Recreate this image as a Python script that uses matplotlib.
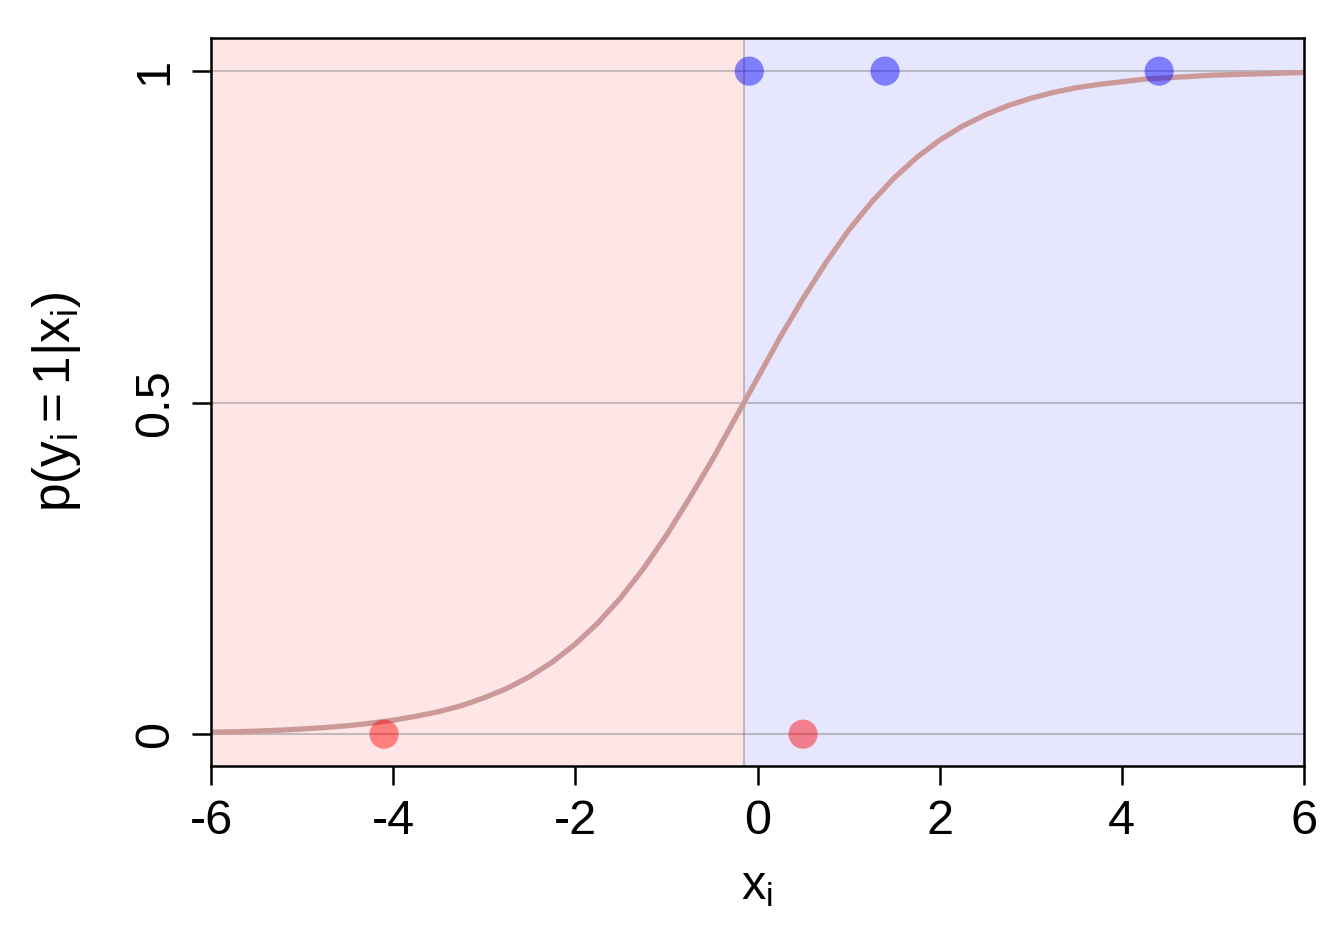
import numpy as np
import matplotlib.pyplot as plt

plt.rcParams.update({
    "font.family": "Liberation Sans",
    "mathtext.fontset": "custom",
    "mathtext.rm": "Liberation Sans",
    "mathtext.it": "Liberation Sans",
    "mathtext.bf": "Liberation Sans:bold",
    "font.size": 35,
})

# observations
x_obs = [-4.10, 0.50, -0.09, 1.40, 4.41]
y_obs = [0, 0, 1, 1, 1]

# fitted probability curve
curve_x = [-6, -5.75, -5.5, -5.25, -5, -4.75, -4.5, -4.25, -4, -3.75, -3.5,
           -3.25, -3, -2.75, -2.5, -2.25, -2, -1.75, -1.5, -1.25, -1, -0.75,
           -0.5, -0.25, 0, 0.25, 0.5, 0.75, 1, 1.25, 1.5, 1.75, 2, 2.25, 2.5,
           2.75, 3, 3.25, 3.5, 3.75, 4, 4.25, 4.5, 4.75, 5, 5.25, 5.5, 5.75, 6]
curve_p = [0.003, 0.0036, 0.0047, 0.006, 0.0078, 0.010, 0.0128, 0.0164, 0.021,
           0.027, 0.034, 0.043, 0.055, 0.069, 0.087, 0.109, 0.136, 0.168,
           0.206, 0.250, 0.300, 0.355, 0.413, 0.475, 0.537, 0.599, 0.657,
           0.711, 0.760, 0.802, 0.839, 0.870, 0.896, 0.917, 0.934, 0.948,
           0.959, 0.968, 0.975, 0.980, 0.984, 0.988, 0.990, 0.992, 0.994,
           0.995, 0.996, 0.997, 0.998]

# decision boundary
boundary = -0.15

fig = plt.figure(figsize=(13.44, 9.4), dpi=100)
ax = fig.add_axes([211 / 1344, 1 - 766 / 940, (1304 - 211) / 1344, (766 - 38) / 940])

ax.set_xlim(-6, 6)
ax.set_ylim(-0.048, 1.05)

# class regions
ax.axvspan(-6, boundary, color=(1, 230 / 255, 230 / 255), zorder=0, lw=0)
ax.axvspan(boundary, 6, color=(230 / 255, 230 / 255, 1), zorder=0, lw=0)

# grid and boundary line
for yy in [0, 0.5, 1]:
    ax.axhline(yy, color="gray", alpha=0.45, lw=1.5, zorder=1)
ax.axvline(boundary, color="gray", alpha=0.45, lw=1.5, zorder=1)

ax.plot(curve_x, curve_p, color="#CC9999", lw=3.8, zorder=2)

cols = ["red" if v == 0 else "blue" for v in y_obs]
ax.scatter(x_obs, y_obs, s=21 ** 2, c=cols, alpha=0.45, edgecolors="none", zorder=3)

ax.set_xticks([-6, -4, -2, 0, 2, 4, 6])
ax.set_xticklabels(["-6", "-4", "-2", "0", "2", "4", "6"])
ax.set_yticks([0, 0.5, 1])
ax.set_yticklabels(["0", "0.5", "1"], rotation=90, va="center")
ax.tick_params(length=14, width=1.8, pad=10, direction="out")

for s in ax.spines.values():
    s.set_linewidth(1.8)

ax.set_xlabel(r"$\mathregular{x_i}$", labelpad=14)
ax.set_ylabel(r"$p\left(y_i = 1 | x_i\right)$", labelpad=36, fontsize=37)

fig.savefig("out.png", dpi=100)
